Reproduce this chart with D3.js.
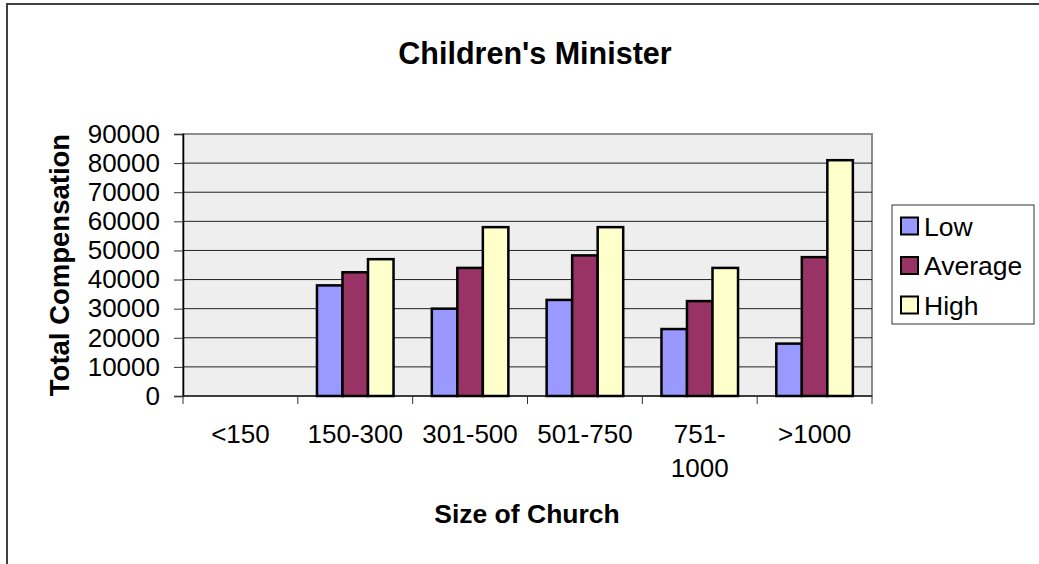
<!DOCTYPE html>
<html>
<head>
<meta charset="utf-8">
<script src="https://cdn.jsdelivr.net/npm/d3@7"></script>
<style>
  body { margin: 0; background: #fff; }
  svg { display: block; font-family: "Liberation Sans", Arial, sans-serif; }
</style>
</head>
<body>
<svg id="chart" width="1039" height="564"></svg>
<script>
// chart data
const categories = ["<150", "150-300", "301-500", "501-750", "751-1000", ">1000"];
const xTickLabels = [["<150"], ["150-300"], ["301-500"], ["501-750"], ["751-", "1000"], [">1000"]];
const seriesNames = ["Low", "Average", "High"];
const lowValues = [null, 38000, 30000, 33000, 23000, 18000];
const avgValues = [null, 42500, 44000, 48300, 32600, 47700];
const highValues = [null, 47000, 58000, 58000, 44000, 81000];
const yTicks = [0, 10000, 20000, 30000, 40000, 50000, 60000, 70000, 80000, 90000];

const colors = { Low: "#9999FF", Average: "#993366", High: "#FFFFCC" };
const seriesValues = { Low: lowValues, Average: avgValues, High: highValues };

const svg = d3.select("#chart");
const plot = { left: 183, top: 134, right: 872, bottom: 396 };

// outer chart border (right/bottom edges fall outside the window)
svg.append("rect")
  .attr("x", 7).attr("y", 4)
  .attr("width", 1100).attr("height", 600)
  .attr("fill", "#fff").attr("stroke", "#404040").attr("stroke-width", 2);

const x = d3.scaleBand().domain(categories).range([plot.left, plot.right]);
const inner = d3.scaleBand().domain(seriesNames).range([0, x.bandwidth()])
  .paddingInner(0).paddingOuter(0.75);
const y = d3.scaleLinear().domain([0, 90000]).range([plot.bottom, plot.top]);

// plot background
svg.append("rect")
  .attr("x", plot.left).attr("y", plot.top)
  .attr("width", plot.right - plot.left).attr("height", plot.bottom - plot.top)
  .attr("fill", "#EEEEEE").attr("stroke", "#8c8c8c").attr("stroke-width", 2);

// gridlines
svg.append("g").selectAll("line")
  .data(yTicks.filter(t => t > 0 && t < 90000))
  .join("line")
  .attr("x1", plot.left).attr("x2", plot.right)
  .attr("y1", d => y(d)).attr("y2", d => y(d))
  .attr("stroke", "#222").attr("stroke-width", 1);

// y axis
const yAxis = svg.append("g")
  .attr("transform", `translate(${plot.left},0)`)
  .call(d3.axisLeft(y).tickValues(yTicks).tickSize(9).tickPadding(14).tickFormat(d3.format("d")));
yAxis.select(".domain").attr("stroke", "#000").attr("stroke-width", 1.5);
yAxis.selectAll(".tick line").attr("stroke", "#333");
yAxis.selectAll("text").attr("font-size", 26).attr("fill", "#000")
  .attr("font-family", "Liberation Sans, Arial, sans-serif");

// x axis line + boundary ticks
svg.append("line")
  .attr("x1", plot.left).attr("x2", plot.right)
  .attr("y1", plot.bottom).attr("y2", plot.bottom)
  .attr("stroke", "#222").attr("stroke-width", 1.5);
svg.append("g").selectAll("line")
  .data(categories.concat(["end"]))
  .join("line")
  .attr("x1", (d, i) => plot.left + i * x.step())
  .attr("x2", (d, i) => plot.left + i * x.step())
  .attr("y1", plot.bottom).attr("y2", plot.bottom + 8)
  .attr("stroke", "#333").attr("stroke-width", 1);

// bars
const groups = svg.append("g").selectAll("g")
  .data(categories)
  .join("g")
  .attr("transform", d => `translate(${x(d)},0)`);

groups.selectAll("rect")
  .data((d, i) => seriesNames.map(s => ({ s, v: seriesValues[s][i] })).filter(e => e.v != null))
  .join("rect")
  .attr("x", d => inner(d.s))
  .attr("y", d => y(d.v))
  .attr("width", inner.bandwidth())
  .attr("height", d => y(0) - y(d.v))
  .attr("fill", d => colors[d.s])
  .attr("stroke", "#000").attr("stroke-width", 2.5);

// x tick labels
svg.append("g").selectAll("text")
  .data(categories)
  .join("text")
  .attr("x", d => x(d) + x.bandwidth() / 2)
  .attr("y", 443)
  .attr("text-anchor", "middle")
  .attr("font-size", 26)
  .each(function(d, i) {
    const t = d3.select(this);
    xTickLabels[i].forEach((line, j) => {
      t.append("tspan")
        .attr("x", x(d) + x.bandwidth() / 2)
        .attr("dy", j === 0 ? 0 : 34)
        .text(line);
    });
  });

// titles
svg.append("text")
  .attr("x", 535).attr("y", 64)
  .attr("text-anchor", "middle")
  .attr("font-size", 30.5).attr("font-weight", "bold")
  .text("Children's Minister");

svg.append("text")
  .attr("x", 527).attr("y", 523)
  .attr("text-anchor", "middle")
  .attr("font-size", 26.5).attr("font-weight", "bold")
  .text("Size of Church");

svg.append("text")
  .attr("transform", "translate(69,265) rotate(-90)")
  .attr("text-anchor", "middle")
  .attr("font-size", 27.5).attr("font-weight", "bold")
  .text("Total Compensation");

// legend
const legend = svg.append("g").attr("transform", "translate(892,205)");
legend.append("rect")
  .attr("width", 142).attr("height", 119)
  .attr("fill", "#fff").attr("stroke", "#333").attr("stroke-width", 1);

const item = legend.selectAll("g.item")
  .data(seriesNames)
  .join("g")
  .attr("class", "item")
  .attr("transform", (d, i) => `translate(0,${21 + i * 39.5})`);
item.append("rect")
  .attr("x", 9).attr("y", -8.5)
  .attr("width", 17).attr("height", 17)
  .attr("fill", d => colors[d])
  .attr("stroke", "#000").attr("stroke-width", 2);
item.append("text")
  .attr("x", 32).attr("y", 9.5)
  .attr("font-size", 26.5)
  .text(d => d);
</script>
</body>
</html>
